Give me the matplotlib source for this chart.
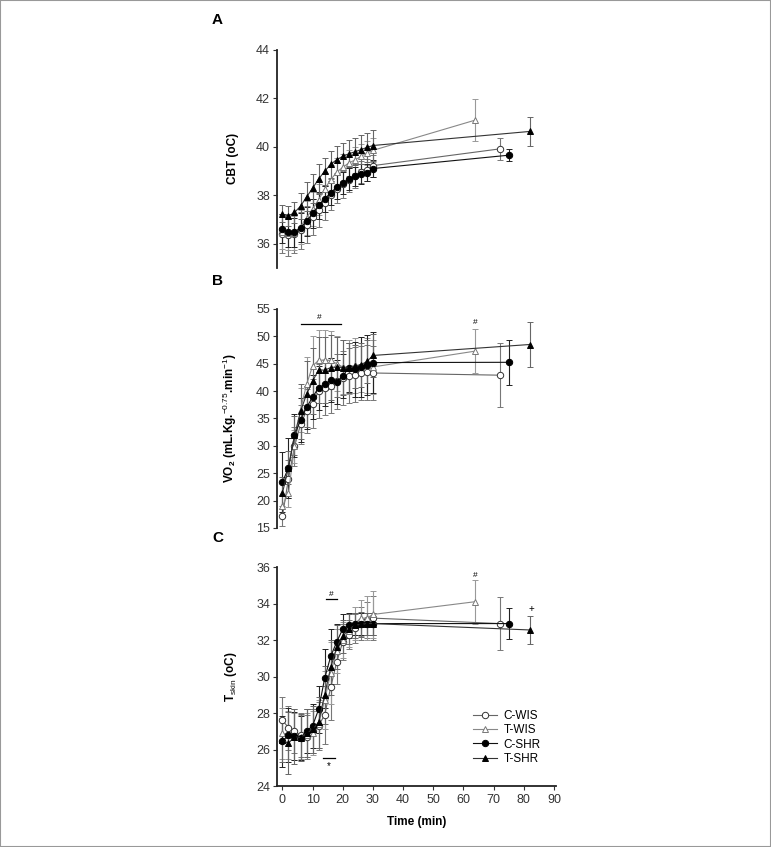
import matplotlib
matplotlib.use('Agg')
import matplotlib.pyplot as plt
from matplotlib.patches import Rectangle
from matplotlib.lines import Line2D
import numpy as np

##########################
# three stacked panels: CBT, VO2 and Tskin over time
# data (means +- SD)

plt.rcParams['font.family'] = ['Liberation Sans', 'DejaVu Sans']
plt.rcParams['mathtext.fontset'] = 'custom'
plt.rcParams['mathtext.rm'] = 'Liberation Sans'
plt.rcParams['mathtext.bf'] = 'Liberation Sans:bold'

groups = ['C-WIS', 'T-WIS', 'C-SHR', 'T-SHR']
timeEarly = [0, 2, 4, 6, 8, 10, 12, 14, 16, 18, 20, 22, 24, 26, 28, 30]
timeFinal = {'C-WIS': 72, 'T-WIS': 64, 'C-SHR': 75, 'T-SHR': 82}

# panel A - core body temperature
cbt = {
	'C-WIS': [36.42, 36.36, 36.41, 36.55, 36.79, 37.1, 37.38, 37.68, 38.03, 38.26, 38.45, 38.62, 38.79, 38.95, 39.05, 39.22, 39.91],
	'T-WIS': [36.5, 36.45, 36.45, 36.7, 37.07, 37.44, 37.82, 38.26, 38.64, 38.95, 39.15, 39.33, 39.45, 39.6, 39.75, 39.85, 41.1],
	'C-SHR': [36.62, 36.48, 36.48, 36.66, 36.93, 37.25, 37.58, 37.85, 38.1, 38.33, 38.5, 38.67, 38.78, 38.88, 38.92, 39.1, 39.65],
	'T-SHR': [37.23, 37.14, 37.29, 37.55, 37.93, 38.29, 38.67, 38.99, 39.27, 39.47, 39.6, 39.71, 39.79, 39.88, 39.97, 40.05, 40.63],
}
cbtErr = {
	'C-WIS': [0.8, 0.85, 0.8, 0.75, 0.75, 0.75, 0.7, 0.7, 0.65, 0.6, 0.55, 0.5, 0.5, 0.45, 0.45, 0.45, 0.45],
	'T-WIS': [0.7, 0.7, 0.7, 0.7, 0.7, 0.7, 0.65, 0.65, 0.6, 0.6, 0.55, 0.55, 0.55, 0.5, 0.5, 0.5, 0.85],
	'C-SHR': [0.6, 0.6, 0.6, 0.6, 0.6, 0.6, 0.55, 0.55, 0.5, 0.5, 0.45, 0.45, 0.4, 0.4, 0.35, 0.35, 0.25],
	'T-SHR': [0.35, 0.4, 0.45, 0.55, 0.6, 0.6, 0.6, 0.55, 0.55, 0.55, 0.55, 0.55, 0.55, 0.6, 0.6, 0.65, 0.6],
}

# panel B - oxygen consumption
vo2 = {
	'C-WIS': [17.2, 24.0, 29.9, 33.9, 36.4, 37.7, 40.0, 40.6, 41.0, 41.8, 42.4, 42.8, 43.0, 43.3, 43.4, 43.3, 42.9],
	'T-WIS': [19.0, 21.4, 29.9, 36.6, 41.2, 44.6, 45.6, 45.7, 45.6, 45.0, 44.4, 44.4, 44.7, 44.8, 44.7, 44.4, 47.3],
	'C-SHR': [23.35, 26.0, 31.9, 34.7, 37.0, 38.9, 40.6, 41.2, 42.0, 41.7, 42.7, 44.3, 44.0, 44.4, 44.8, 45.2, 45.25],
	'T-SHR': [21.4, 26.0, 31.9, 36.3, 39.4, 41.8, 43.9, 43.8, 44.3, 44.4, 44.3, 44.2, 44.5, 44.8, 45.4, 46.5, 48.5],
}
vo2Err = {
	'C-WIS': [1.8, 3.5, 3.5, 3.5, 4.0, 4.5, 5.0, 5.0, 5.0, 5.0, 5.0, 5.0, 5.0, 5.0, 5.0, 5.0, 5.9],
	'T-WIS': [2.0, 2.5, 3.0, 4.0, 5.0, 5.5, 5.5, 5.5, 5.3, 5.0, 5.0, 5.0, 5.0, 5.0, 5.0, 5.0, 4.0],
	'C-SHR': [5.5, 5.5, 4.0, 4.0, 4.0, 4.0, 4.0, 4.0, 4.0, 4.0, 4.0, 4.5, 5.0, 5.5, 5.5, 5.5, 4.1],
	'T-SHR': [3.0, 3.0, 3.5, 5.0, 6.0, 6.0, 6.0, 6.0, 6.0, 5.5, 5.0, 4.5, 4.0, 4.0, 4.0, 4.0, 4.1],
}

# panel C - skin temperature
tskin = {
	'C-WIS': [27.6, 27.2, 27.0, 26.8, 26.7, 27.0, 27.3, 27.9, 29.4, 30.8, 31.9, 32.3, 32.65, 32.9, 33.1, 33.2, 32.9],
	'T-WIS': [26.9, 26.8, 26.7, 26.7, 26.8, 26.9, 27.4, 28.7, 30.2, 31.4, 32.0, 32.5, 32.9, 33.2, 33.2, 33.4, 34.1],
	'C-SHR': [26.45, 26.8, 26.74, 26.65, 27.0, 27.3, 28.2, 29.9, 31.1, 31.9, 32.6, 32.8, 32.9, 32.9, 32.9, 32.9, 32.9],
	'T-SHR': [26.5, 26.34, 26.7, 26.65, 26.9, 27.1, 27.5, 29.0, 30.5, 31.6, 32.2, 32.6, 32.8, 32.85, 32.9, 32.9, 32.55],
}
tskinErr = {
	'C-WIS': [1.25, 1.2, 1.2, 1.2, 1.2, 1.2, 1.3, 1.6, 1.8, 1.2, 1.0, 0.8, 0.8, 0.9, 1.0, 1.2, 1.45],
	'T-WIS': [1.4, 1.3, 1.3, 1.2, 1.2, 1.2, 1.3, 1.6, 1.7, 1.2, 1.0, 0.9, 0.9, 1.0, 1.2, 1.3, 1.2],
	'C-SHR': [1.4, 1.5, 1.3, 1.2, 1.2, 1.2, 1.3, 1.6, 1.5, 1.0, 0.8, 0.7, 0.6, 0.6, 0.6, 0.6, 0.85],
	'T-SHR': [1.2, 1.7, 1.5, 1.3, 1.3, 1.3, 1.4, 1.6, 1.5, 1.2, 0.9, 0.8, 0.7, 0.7, 0.6, 0.6, 0.77],
}

style = {
	'C-WIS': dict(marker='o', mfc='white', mec='#333333', color='#666666', ecolor='#777777', ms=4.6),
	'T-WIS': dict(marker='^', mfc='white', mec='#777777', color='#888888', ecolor='#999999', ms=4.2),
	'C-SHR': dict(marker='o', mfc='black', mec='black', color='#111111', ecolor='#222222', ms=4.6),
	'T-SHR': dict(marker='^', mfc='black', mec='black', color='#333333', ecolor='#666666', ms=4.2),
}

W, H = 771, 847

def axRect(top, bottom):
	# pixel rows -> figure fraction rectangle
	return [277 / W, 1 - bottom / H, (556 - 277) / W, (bottom - top) / H]

def drawPanel(ax, data, err):
	for g in groups:
		t = timeEarly + [timeFinal[g]]
		s = style[g]
		ax.errorbar(t, data[g], yerr=err[g], marker=s['marker'], mfc=s['mfc'], mec=s['mec'],
			ms=s['ms'], mew=0.7, color=s['color'], lw=0.8, ecolor=s['ecolor'],
			elinewidth=0.8, capsize=2.3, capthick=0.8, zorder=3)
	ax.set_xlim(-1.8, 90.7)
	for sp in ['top', 'right']:
		ax.spines[sp].set_visible(False)
	ax.spines['left'].set_linewidth(1.3)
	ax.spines['left'].set_color('#222222')
	ax.tick_params(axis='y', direction='out', length=3, width=0.8, labelsize=9, pad=2, colors='#333333')
	ax.yaxis.set_label_coords(-0.137, 0.5)


fig = plt.figure(figsize=(W / 100, H / 100), dpi=100)

axA = fig.add_axes(axRect(49.7, 268))
drawPanel(axA, cbt, cbtErr)
axA.set_ylim(35, 44)
axA.set_yticks([36, 38, 40, 42, 44])
axA.spines['bottom'].set_visible(False)
axA.set_xticks([])
axA.set_ylabel('CBT (oC)', fontsize=8.5, fontweight='bold')

axB = fig.add_axes(axRect(308.9, 528))
drawPanel(axB, vo2, vo2Err)
axB.set_ylim(15, 55)
axB.set_yticks(np.arange(15, 56, 5))
axB.spines['bottom'].set_visible(False)
axB.set_xticks([])
axB.set_ylabel(r'VO$_{\mathbf{2}}$ (mL.Kg.$^{-0.75}$.min$^{-1}$)', fontsize=8.5, fontweight='bold')
axB.plot([6.3, 19.3], [52.2, 52.2], color='black', lw=0.9)
axB.text(12.3, 52.7, '#', fontsize=6, ha='center', va='bottom')
axB.text(64, 51.8, '#', fontsize=6, ha='center', va='bottom')

axC = fig.add_axes(axRect(567, 786))
drawPanel(axC, tskin, tskinErr)
axC.set_ylim(24, 36)
axC.set_yticks(np.arange(24, 37, 2))
axC.set_xticks(np.arange(0, 91, 10))
axC.spines['bottom'].set_linewidth(1.3)
axC.spines['bottom'].set_color('#222222')
axC.tick_params(axis='x', direction='out', length=3, width=0.8, labelsize=9, pad=3, colors='#333333')
axC.set_ylabel(r'T$_{\mathrm{skin}}$ (oC)', fontsize=8.5, fontweight='bold')
axC.set_xlabel('Time (min)', fontsize=8.5, fontweight='bold', labelpad=7)
axC.plot([14.3, 18.2], [34.23, 34.23], color='black', lw=0.9)
axC.text(16.2, 34.3, '#', fontsize=6, ha='center', va='bottom')
axC.plot([13.5, 17.5], [25.53, 25.53], color='black', lw=0.9)
axC.text(15.5, 25.35, '*', fontsize=7, ha='center', va='top')
axC.text(64, 35.35, '#', fontsize=6, ha='center', va='bottom')
axC.text(82.5, 33.45, '+', fontsize=7, ha='center', va='bottom')

handles = []
for g in groups:
	s = style[g]
	handles.append(Line2D([0], [0], marker=s['marker'], mfc=s['mfc'], mec=s['mec'], ms=s['ms'],
		mew=0.7, color=s['color'], lw=0.8))
axC.legend(handles, groups, loc='upper left', bbox_to_anchor=(0.68, 0.375), frameon=False,
	fontsize=8.5, handlelength=2.1, labelspacing=0.2, borderpad=0, handletextpad=0.5)

fig.text(212 / W, 1 - 20.5 / H, 'A', fontsize=11, fontweight='bold', ha='left', va='center')
fig.text(212 / W, 1 - 281 / H, 'B', fontsize=11, fontweight='bold', ha='left', va='center')
fig.text(212 / W, 1 - 538 / H, 'C', fontsize=11, fontweight='bold', ha='left', va='center')

fig.patches.append(Rectangle((0, 0), 1, 1, transform=fig.transFigure, fill=False, edgecolor='#999999', lw=1.5))

plt.savefig('out.png', dpi=100)
